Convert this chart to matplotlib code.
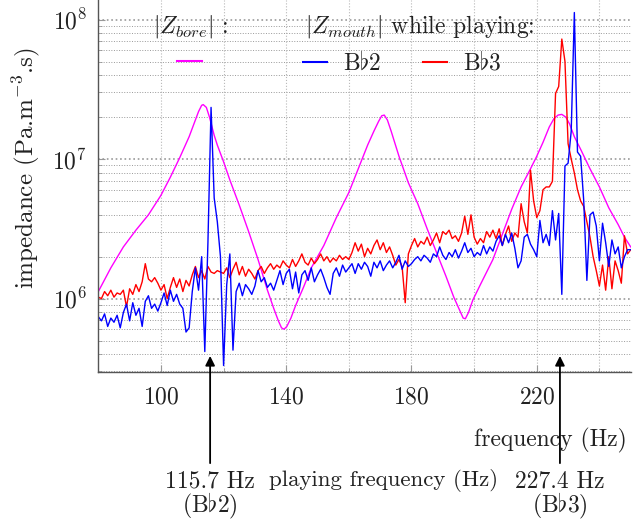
import numpy as np
import matplotlib.pyplot as plt
from matplotlib.ticker import FixedLocator, LogLocator, NullFormatter
from matplotlib.lines import Line2D

plt.rcParams['font.family'] = 'serif'
plt.rcParams['font.serif'] = ['cmr10']
plt.rcParams['mathtext.fontset'] = 'cm'
plt.rcParams['axes.formatter.use_mathtext'] = True

# bore input impedance (computed), log10 of |Z|
bore_freq = [80, 84, 88, 92, 96, 100, 103, 106, 109, 111, 112, 113, 113.5, 114.5,
             115.5, 117, 118, 120, 122, 125, 128, 131, 134, 136, 137.5, 138.5,
             139.3, 140.2, 141.5, 143, 145.5, 148, 152, 156, 160, 163, 166, 168,
             169.5, 170.5, 171.3, 172.3, 173.5, 176, 179, 182, 185, 188, 191,
             193.5, 195.5, 196.5, 197.2, 198.2, 199.6, 202, 206, 209, 212, 215,
             218, 220, 222, 224, 225.5, 226.8, 228, 229.3, 230.5, 232, 234, 237,
             240, 243, 246, 248, 250]
bore_log10 = [6.05, 6.22, 6.37, 6.49, 6.60, 6.74, 6.87, 7.01, 7.16, 7.28, 7.34, 7.385,
              7.39, 7.37, 7.30, 7.17, 7.10, 6.98, 6.85, 6.67, 6.48, 6.28, 6.06, 5.93,
              5.84, 5.79, 5.78, 5.80, 5.86, 5.95, 6.08, 6.22, 6.38, 6.58, 6.76, 6.93,
              7.10, 7.20, 7.27, 7.31, 7.315, 7.28, 7.20, 7.02, 6.83, 6.68, 6.50,
              6.33, 6.16, 6.01, 5.91, 5.86, 5.855, 5.90, 5.99, 6.10, 6.28, 6.46,
              6.64, 6.80, 6.93, 7.02, 7.12, 7.23, 7.29, 7.315, 7.32, 7.30, 7.25,
              7.16, 7.07, 6.93, 6.80, 6.65, 6.53, 6.44, 6.37]

# mouth impedance while playing, 1 Hz steps from 80 to 250 Hz, log10 of |Z|
freq = np.arange(80, 251)
bb2_log10 = [5.87, 5.84, 5.89, 5.80, 5.86, 5.83, 5.88, 5.79, 5.90, 5.96,
             5.84, 5.97, 5.88, 5.93, 5.80, 5.98, 6.02, 5.93, 5.96, 5.91,
             5.97, 6.04, 5.95, 6.06, 5.98, 6.03, 5.96, 5.93, 5.76, 5.79,
             6.05, 6.22, 6.06, 6.30, 5.62, 6.40, 7.37, 6.72, 6.55, 6.30,
             5.52, 6.10, 6.32, 5.63, 6.05, 6.11, 6.02, 6.10, 6.07, 6.03,
             6.09, 6.20, 6.12, 6.15, 6.08, 6.11, 6.06, 6.13, 6.20, 6.10,
             6.18, 6.21, 6.07, 6.19, 6.04, 6.17, 6.20, 6.13, 6.22, 6.12,
             6.17, 6.21, 6.15, 6.08, 6.03, 6.18, 6.22, 6.16, 6.24, 6.19,
             6.22, 6.25, 6.18, 6.25, 6.21, 6.26, 6.23, 6.16, 6.26, 6.22,
             6.27, 6.20, 6.24, 6.27, 6.22, 6.26, 6.31, 6.21, 6.27, 6.23,
             6.25, 6.28, 6.30, 6.27, 6.31, 6.29, 6.26, 6.32, 6.30, 6.37,
             6.31, 6.28, 6.33, 6.30, 6.35, 6.29, 6.34, 6.40, 6.33, 6.36,
             6.30, 6.33, 6.31, 6.38, 6.32, 6.37, 6.34, 6.41, 6.45, 6.38,
             6.46, 6.40, 6.47, 6.36, 6.22, 6.27, 6.44, 6.46, 6.39, 6.35,
             6.30, 6.56, 6.40, 6.46, 6.38, 6.63, 6.42, 6.61, 6.03, 6.95,
             6.97, 7.20, 8.05, 7.05, 7.02, 6.70, 6.13, 6.60, 6.62, 6.52,
             6.27, 6.54, 6.40, 6.23, 6.42, 6.32, 6.37, 6.22, 6.30, 6.35,
             6.35]
bb3_log10 = [6.01, 6.00, 6.05, 6.02, 6.06, 6.01, 6.04, 6.03, 6.06, 5.94,
             6.07, 6.03, 6.10, 6.05, 6.12, 6.25, 6.14, 6.12, 6.15, 6.11,
             6.06, 6.10, 6.00, 6.08, 6.15, 6.08, 6.14, 6.05, 6.13, 6.09,
             6.17, 6.23, 6.15, 6.20, 6.14, 6.23, 6.19, 6.18, 6.20, 6.19,
             6.18, 6.22, 6.15, 6.21, 6.26, 6.17, 6.23, 6.16, 6.21, 6.18,
             6.14, 6.20, 6.23, 6.18, 6.22, 6.25, 6.21, 6.24, 6.22, 6.27,
             6.24, 6.22, 6.28, 6.23, 6.27, 6.32, 6.26, 6.24, 6.29, 6.25,
             6.28, 6.32, 6.27, 6.30, 6.26, 6.29, 6.27, 6.31, 6.28, 6.30,
             6.28, 6.33, 6.40, 6.34, 6.39, 6.30, 6.36, 6.32, 6.38, 6.42,
             6.35, 6.40, 6.33, 6.37, 6.31, 6.24, 6.28, 6.23, 5.97, 6.32,
             6.38, 6.43, 6.37, 6.41, 6.39, 6.44, 6.38, 6.42, 6.47, 6.40,
             6.48, 6.46, 6.49, 6.43, 6.45, 6.41, 6.47, 6.59, 6.46, 6.60,
             6.44, 6.39, 6.43, 6.40, 6.48, 6.44, 6.49, 6.43, 6.50, 6.38,
             6.46, 6.52, 6.41, 6.47, 6.44, 6.68, 6.55, 6.47, 6.92, 6.70,
             6.58, 6.63, 6.78, 6.80, 6.80, 6.84, 7.47, 7.52, 7.86, 7.70,
             7.11, 7.00, 6.90, 6.78, 6.70, 6.66, 6.55, 6.44, 6.30, 6.20,
             6.09, 6.24, 6.06, 6.30, 6.07, 6.27, 6.20, 6.11, 6.45, 6.32,
             6.35]

xticks = [100, 140, 180, 220]
xminor = [120, 160, 200, 240]
playing_freqs = [115.7, 227.4]
playing_notes = [r'(B$\flat$2)', r'(B$\flat$3)']

fig = plt.figure(figsize=(6.43, 5.26), dpi=100)
ax = fig.add_axes([0.1529, 0.2922, 0.8280, 0.7078])

ax.plot(bore_freq, 10 ** np.array(bore_log10), color='#ff00ff', lw=1.0)
ax.plot(freq, 10 ** np.array(bb3_log10), color='#ff0000', lw=1.0)
ax.plot(freq, 10 ** np.array(bb2_log10), color='#0000ff', lw=1.0)

ax.set_yscale('log')
ax.set_xlim(80, 250)
ax.set_ylim(2.96e5, 1.38e8)
ax.xaxis.set_major_locator(FixedLocator(xticks))
ax.xaxis.set_minor_locator(FixedLocator(xminor))
ax.yaxis.set_major_locator(LogLocator(base=10))
ax.yaxis.set_minor_locator(LogLocator(base=10, subs=np.arange(2, 10)))
ax.yaxis.set_minor_formatter(NullFormatter())

ax.grid(True, which='major', axis='y', color='#999999', ls=':', lw=1.2)
ax.grid(True, which='minor', axis='y', color='#999999', ls=':', lw=0.7)
ax.grid(True, which='both', axis='x', color='#b8b8b8', ls=':', lw=0.8)
ax.set_axisbelow(True)

for side in ['top', 'right']:
    ax.spines[side].set_visible(False)
for side in ['left', 'bottom']:
    ax.spines[side].set_color('#555555')
    ax.spines[side].set_linewidth(1.0)
ax.tick_params(which='both', direction='in', color='#999999', labelsize=17,
               labelcolor='#222222')
ax.tick_params(which='major', length=5)
ax.tick_params(which='minor', length=3)
ax.tick_params(axis='x', pad=10)
ax.tick_params(axis='y', pad=8)

fig.text(26 / 643, 1 - 168 / 526, r'impedance (Pa.m$^{-3}$.s)', rotation=90,
         ha='center', va='center', fontsize=18, color='#222222')
ax.set_xlabel('frequency (Hz)', fontsize=17, color='#222222')
ax.xaxis.set_label_coords(0.993, -0.15)
ax.xaxis.label.set_ha('right')

# legend headers and entries
fig.text(153 / 643, 1 - 27 / 526, r'$|Z_{bore}|$ :', fontsize=17,
         ha='left', va='center', color='#222222')
fig.text(305 / 643, 1 - 27 / 526, r'$|Z_{mouth}|$ while playing:', fontsize=17,
         ha='left', va='center', color='#222222')
leg1 = ax.legend([Line2D([], [], color='#ff00ff', lw=1.5)], [''],
                 loc='center left', bbox_to_anchor=(177 / 643, 1 - 63 / 526),
                 bbox_transform=fig.transFigure, frameon=False, fontsize=17,
                 borderpad=0, borderaxespad=0, handlelength=1.04, handletextpad=0.68)
ax.add_artist(leg1)
ax.legend([Line2D([], [], color='#0000ff', lw=1.5), Line2D([], [], color='#ff0000', lw=1.5)],
          [r'B$\flat$2', r'B$\flat$3'], ncol=2,
          loc='center left', bbox_to_anchor=(302.5 / 643, 1 - 63 / 526),
          bbox_transform=fig.transFigure, frameon=False, fontsize=17,
          borderpad=0, borderaxespad=0, handlelength=1.04, handletextpad=0.68,
          columnspacing=1.74, labelcolor='#222222')

# arrows to the playing frequencies
trans = ax.get_xaxis_transform()
for f, note in zip(playing_freqs, playing_notes):
    ax.annotate('', xy=(f, 0.044), xytext=(f, -0.244), xycoords=trans,
                textcoords=trans, annotation_clip=False,
                arrowprops=dict(arrowstyle='-|>', color='black', lw=1.3,
                                mutation_scale=14, shrinkA=0, shrinkB=0))
    ax.text(f, -0.292, f'{f} Hz', transform=trans, ha='center', va='center',
            fontsize=17, color='#222222')
    ax.text(f, -0.359, note, transform=trans, ha='center', va='center',
            fontsize=17, color='#222222')
fig.text(384 / 643, 1 - 481 / 526, 'playing frequency (Hz)', ha='center',
         va='center', fontsize=16.5, color='#222222')

fig.savefig('out.png', dpi=100)
